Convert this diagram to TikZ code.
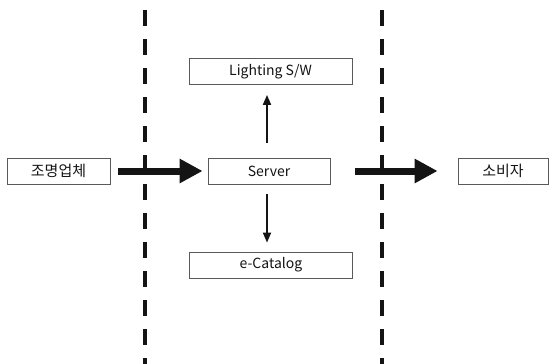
\documentclass[tikz,border=0pt]{standalone}
\usepackage{fontspec}
\setmainfont{Noto Sans CJK KR}
\usepackage{tikz}
\usetikzlibrary{arrows.meta,positioning}
\definecolor{FlowDark}{RGB}{20,20,20}
\definecolor{FlowEdge}{RGB}{90,90,90}

\tikzset{
  flowbox/.style={draw=FlowEdge,line width=0.8pt,fill=white,minimum height=26pt,
    inner sep=0pt,font=\fontsize{14}{16}\selectfont,text=FlowDark},
  bigarrow/.style={draw=FlowDark,line width=7pt,-{Triangle[length=23pt,width=23pt]}},
  smallarrow/.style={draw=FlowDark,line width=1.8pt,-{Triangle[length=10pt,width=8pt]}},
  border/.style={draw=FlowDark,line width=4pt,dash pattern=on 16pt off 13pt}
}

\begin{document}
\begin{tikzpicture}[x=1pt,y=-1pt]
  % page frame 550 x 364, y runs downward
  \useasboundingbox (0,0) rectangle (550,364);

  % vertical borders between the three zones
  \foreach \bx in {145,382}{
    \draw[border] (\bx,10) -- (\bx,364);
  }

  % boxes
  \node[flowbox,minimum width=103pt] (maker) at (58.5,171) {\fontsize{15}{17}\selectfont 조명업체};
  \node[flowbox,minimum width=122pt] (server) at (269,171) {Server};
  \node[flowbox,minimum width=163pt] (light) at (270.5,71.5) {Lighting S/W};
  \node[flowbox,minimum width=163pt] (catalog) at (271,265) {e-Catalog};
  \node[flowbox,minimum width=90pt] (buyer) at (503,171) {\fontsize{15}{17}\selectfont 소비자};

  % flows
  \draw[bigarrow,shorten <=8pt,shorten >=5pt] (maker) -- (server);
  \draw[bigarrow,shorten <=25pt,shorten >=20pt] (server) -- (buyer);
  \draw[smallarrow,shorten <=15pt,shorten >=10pt] (server.north -| 267,0) -- (light.south -| 267,0);
  \draw[smallarrow,shorten <=10pt,shorten >=9pt] (server.south -| 267,0) -- (catalog.north -| 267,0);
\end{tikzpicture}
\end{document}
